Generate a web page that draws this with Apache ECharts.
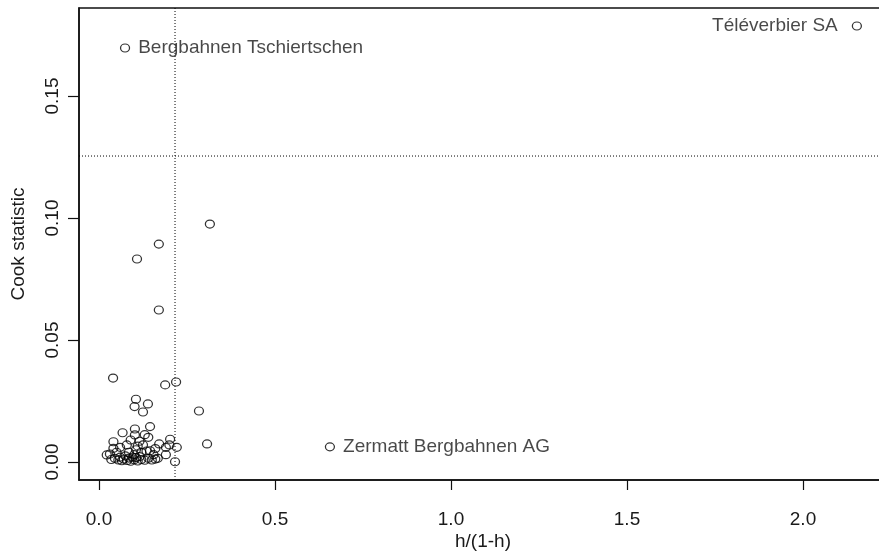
<!DOCTYPE html>
<html>
<head>
<meta charset="utf-8">
<script src="https://cdn.jsdelivr.net/npm/echarts@6/dist/echarts.min.js"></script>
<style>html,body{margin:0;padding:0;background:#fff;overflow:hidden}#c{width:890px;height:551px}</style>
</head>
<body>
<div id="c"></div>
<script>
// h/(1-h) values
const xValues = [2.153, 0.074, 0.656, 0.315, 0.170, 0.108, 0.170, 0.040, 0.219, 0.188, 0.284, 0.105, 0.139, 0.101, 0.125, 0.307, 0.216,
  0.067, 0.102, 0.145, 0.102, 0.140, 0.041, 0.171, 0.202, 0.190, 0.221, 0.167, 0.145, 0.031, 0.041, 0.060, 0.022, 0.079,
  0.090, 0.115, 0.125, 0.130, 0.105, 0.085, 0.120, 0.135, 0.155, 0.100, 0.045, 0.055, 0.060, 0.065, 0.070, 0.075, 0.080,
  0.085, 0.090, 0.095, 0.100, 0.105, 0.110, 0.115, 0.120, 0.130, 0.140, 0.150, 0.160, 0.050, 0.035, 0.110, 0.160, 0.190, 0.200];
// Cook statistic values
const yValues = [0.1787, 0.1697, 0.0062, 0.0975, 0.0893, 0.0832, 0.0623, 0.0344, 0.0328, 0.0316, 0.0209, 0.0257, 0.0238, 0.0227, 0.0205, 0.0074, 0.0001,
  0.0120, 0.0135, 0.0145, 0.0111, 0.0101, 0.0083, 0.0074, 0.0093, 0.0060, 0.0060, 0.0015, 0.0046, 0.0033, 0.0056, 0.0060, 0.0029, 0.0070,
  0.0090, 0.0085, 0.0070, 0.0112, 0.0050, 0.0040, 0.0040, 0.0045, 0.0030, 0.0030, 0.0015, 0.0008, 0.0020, 0.0005, 0.0012, 0.0025, 0.0006,
  0.0016, 0.0003, 0.0020, 0.0009, 0.0018, 0.0004, 0.0022, 0.0010, 0.0007, 0.0015, 0.0008, 0.0012, 0.0040, 0.0010, 0.0065, 0.0055, 0.0030, 0.0070];
const pointNames = ["Téléverbier SA", "Bergbahnen Tschiertschen", "Zermatt Bergbahnen AG"];
const labelSides = ["left", "right", "right"];
const xTicks = [0, 0.5, 1.0, 1.5, 2.0];
const yTicks = [0, 0.05, 0.10, 0.15];
const xRange = [-0.0568, 2.2386];
const yRange = [-0.00738, 0.18607];
const hCutoff = 0.1254;
const vCutoff = 0.216;

const font = "'Liberation Sans', Arial, sans-serif";
const txt = '#1a1a1a';
const data = xValues.map((x, i) => {
  const d = { value: [x, yValues[i]] };
  if (i < pointNames.length) {
    d.name = pointNames[i];
    d.label = { show: true, position: labelSides[i], distance: labelSides[i] === 'left' ? 14 : 8,
      formatter: pointNames[i], fontSize: 19, color: txt, fontFamily: font };
  }
  return d;
});

const dotted = { color: '#000', width: 1, type: [1, 2] };
const chart = echarts.init(document.getElementById('c'), null, { renderer: 'canvas' });
chart.setOption({
  animation: false,
  grid: { left: 79, top: 8, width: 808, height: 472, containLabel: false, outerBoundsMode: 'none',
    show: true, borderColor: '#111', borderWidth: 1.5, backgroundColor: 'transparent' },
  xAxis: {
    type: 'value', min: xRange[0], max: xRange[1],
    name: 'h/(1-h)', nameLocation: 'middle', nameGap: 52, nameMoveOverlap: false,
    nameTextStyle: { fontSize: 19, color: txt, fontFamily: font },
    axisLine: { show: true, onZero: false, lineStyle: { color: '#111', width: 1.5 } },
    axisTick: { show: true, length: 10, customValues: xTicks, lineStyle: { color: '#111', width: 1.2 } },
    axisLabel: { customValues: xTicks, margin: 30, fontSize: 19, color: txt, fontFamily: font,
      formatter: v => v.toFixed(1) },
    splitLine: { show: false }
  },
  yAxis: {
    type: 'value', min: yRange[0], max: yRange[1],
    name: 'Cook statistic', nameLocation: 'middle', nameGap: 51, nameRotate: 90, nameMoveOverlap: false,
    nameTextStyle: { fontSize: 19, color: txt, fontFamily: font },
    axisLine: { show: true, onZero: false, lineStyle: { color: '#111', width: 1.5 } },
    axisTick: { show: true, length: 11, customValues: yTicks, lineStyle: { color: '#111', width: 1.2 } },
    axisLabel: { customValues: yTicks, rotate: 90, margin: 17, fontSize: 19, color: txt, fontFamily: font,
      formatter: v => v.toFixed(2) },
    splitLine: { show: false }
  },
  series: [{
    type: 'line',
    data: [[xRange[0], hCutoff], [xRange[1], hCutoff]],
    showSymbol: false, silent: true, lineStyle: dotted, z: 1
  }, {
    type: 'line',
    data: [[vCutoff, yRange[0]], [vCutoff, yRange[1]]],
    showSymbol: false, silent: true, lineStyle: dotted, z: 1
  }, {
    type: 'scatter',
    symbol: 'circle',
    symbolSize: [9, 8],
    itemStyle: { color: 'rgba(255,255,255,0)', borderColor: '#000', borderWidth: 1.2 },
    emphasis: { disabled: true },
    data: data,
    z: 3
  }]
});
</script>
</body>
</html>
